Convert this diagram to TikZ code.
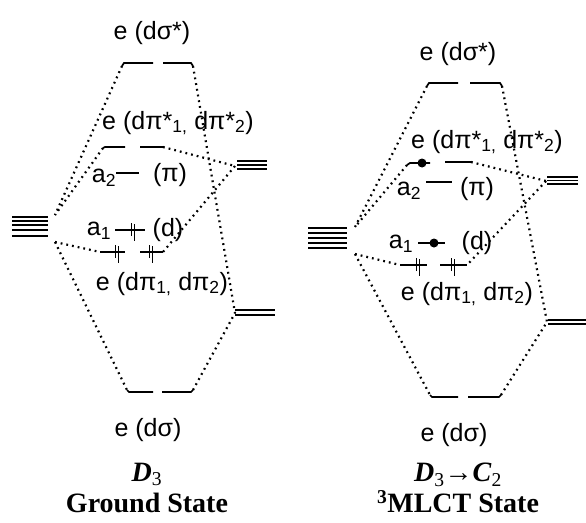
\documentclass[tikz,border=0pt]{standalone}
\usepackage{fontspec}
\setmainfont{Liberation Serif}
\setsansfont{Liberation Sans}
% two spins on one level: x, level y
\newcommand\spinpair[2]{%
  \draw[line width=1.3pt] (#1-1.7,#2+6) -- (#1-1.7,#2-7);
  \draw[line width=1.3pt] (#1+1.7,#2-6) -- (#1+1.7,#2+11);}
\begin{document}
\begin{tikzpicture}[x=1pt,y=-1pt,
  level/.style={line width=1.7pt},
  stack/.style={line width=1.5pt},
  link/.style={line width=2.2pt,dash pattern=on 1.8pt off 4pt},
  lbl/.style={font=\sffamily\fontsize{25}{28}\selectfont,inner sep=0pt},
  caption/.style={font=\bfseries\fontsize{28}{31}\selectfont,inner sep=0pt,
    align=center,anchor=north}]
\useasboundingbox (0,0) rectangle (586,522);

%%% D3 ground state
% stacks of the parts
\foreach \y in {217,221,225,230,236} \draw[stack] (12,\y) -- (48,\y);
\foreach \y in {161,165,169} \draw[stack] (237,\y) -- (267,\y);
\foreach \y in {310,315} \draw[stack] (235,\y) -- (275,\y);
\coordinate (gLtop) at (55,215);
\coordinate (gLbot) at (55,242);
\coordinate (gUR) at (235,166);
\coordinate (gLR) at (235,313);

% levels
\coordinate (gSsA) at (122,66); \coordinate (gSsB) at (193,66);
\draw[level] (gSsA) -- (124,63) -- (153,63);
\draw[level] (163,63) -- (191,63) -- (gSsB);
\coordinate (gPsA) at (103,148); \coordinate (gPsB) at (163,147);
\draw[level] (gPsA) -- (105,147) -- (125,147);
\draw[level] (140,147) -- (gPsB);
\draw[level] (116,173) -- (139,173);
\draw[level] (115,230) -- (145,230);
\spinpair{133}{230}
\coordinate (gPA) at (100,252); \coordinate (gPB) at (163,252);
\draw[level] (gPA) -- (125,252);
\draw[level] (140,252) -- (gPB);
\spinpair{117}{252}
\spinpair{151}{252}
\coordinate (gSA) at (127,390); \coordinate (gSB) at (193,390);
\draw[level] (gSA) -- (129,392) -- (153,392);
\draw[level] (162,392) -- (191,392) -- (gSB);

% correlation lines
\draw[link] (gSsA) -- (gLtop);
\draw[link] (gPsA) -- (gLtop);
\draw[link] (gPsB) -- (gUR);
\draw[link] (gUR) -- (gPB);
\draw[link] (gLbot) -- (gPA);
\draw[link] (gLbot) -- (gSA);
\draw[link] (gSsB) -- (gLR);
\draw[link] (gSB) -- (gLR);

% labels
\node[lbl] (gSsT) at (152,33) {e (dσ*)};
\node[lbl] (gPsT) at (178,123) {e (dπ*\textsubscript{1,} dπ*\textsubscript{2})};
\node[lbl] (gA2) at (104,178) {a\textsubscript{2}};
\node[lbl] (gA2p) at (170,175) {(π)};
\node[lbl] (gA1) at (99,231) {a\textsubscript{1}};
\node[lbl] (gA1d) at (168,230) {(d)};
\node[lbl] (gPT) at (162,284) {e (dπ\textsubscript{1,} dπ\textsubscript{2})};
\node[lbl] (gST) at (148,430) {e (dσ)};
\node[caption] (gState) at (147,463)
  {\textit{D}{\mdseries\textsubscript{3}}\\ Ground State};

%%% D3 -> C2 3MLCT state
% stacks of the parts
\foreach \y in {228,233,238,243,248} \draw[stack] (308,\y) -- (347,\y);
\foreach \y in {177,180.5,184} \draw[stack] (547,\y) -- (578,\y);
\foreach \y in {320,324} \draw[stack] (548,\y) -- (586,\y);
\coordinate (mLtop) at (355,227);
\coordinate (mLbot) at (355,254);
\coordinate (mUR) at (546,181);
\coordinate (mLR) at (547,322);

% levels
\coordinate (mSsA) at (427,86); \coordinate (mSsB) at (502,86);
\draw[level] (mSsA) -- (429,83) -- (458,83);
\draw[level] (470,83) -- (500,83) -- (mSsB);
\coordinate (mPsA) at (407,165); \coordinate (mPsB) at (471,162);
\draw[level] (mPsA) -- (410,163) -- (430,163);
\fill (422,163) circle (4.5);
\draw[level] (445,162) -- (mPsB);
\draw[level] (426,182) -- (452,182);
\draw[level] (418,243) -- (445,243);
\fill (434,243) circle (4.5);
\coordinate (mPA) at (400,265); \coordinate (mPB) at (467,265);
\draw[level] (mPA) -- (427,265);
\draw[level] (440,265) -- (mPB);
\spinpair{418}{265}
\spinpair{453}{265}
\coordinate (mSA) at (430,395); \coordinate (mSB) at (501,395);
\draw[level] (mSA) -- (432,397) -- (458,397);
\draw[level] (468,397) -- (499,397) -- (mSB);

% correlation lines
\draw[link] (mSsA) -- (mLtop);
\draw[link] (mPsA) -- (mLtop);
\draw[link] (mPsB) -- (mUR);
\draw[link] (mUR) -- (mPB);
\draw[link] (mLbot) -- (mPA);
\draw[link] (mLbot) -- (mSA);
\draw[link] (mSsB) -- (mLR);
\draw[link] (mSB) -- (mLR);

% labels
\node[lbl] (mSsT) at (458,54) {e (dσ*)};
\node[lbl] (mPsT) at (487,142) {e (dπ*\textsubscript{1,} dπ*\textsubscript{2})};
\node[lbl] (mA2) at (409,191) {a\textsubscript{2}};
\node[lbl] (mA2p) at (477,189) {(π)};
\node[lbl] (mA1) at (401,244) {a\textsubscript{1}};
\node[lbl] (mA1d) at (477,243) {(d)};
\node[lbl] (mPT) at (467,294) {e (dπ\textsubscript{1,} dπ\textsubscript{2})};
\node[lbl] (mST) at (454,435) {e (dσ)};
\node[caption] (mState) at (458,463)
  {\textit{D}{\mdseries\textsubscript{3}}→\textit{C}{\mdseries\textsubscript{2}}\\ \textsuperscript{3}MLCT State};
\end{tikzpicture}
\end{document}
